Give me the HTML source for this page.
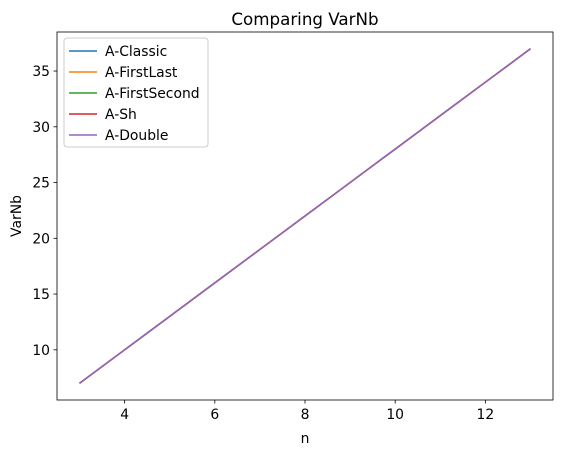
<!DOCTYPE html>
<html><head><meta charset="utf-8"><style>
body{margin:0;background:#fff;}
text{font-family:"DejaVu Sans","Liberation Sans",sans-serif;fill:#000;}
</style></head><body>
<svg id="chart" width="562" height="455" xmlns="http://www.w3.org/2000/svg">
<rect width="562" height="455" fill="#fff"/>
<text x="305" y="25" font-size="16.7" text-anchor="middle">Comparing VarNb</text>
<g id="ticks"></g>
<g id="lines"></g>
<rect x="57" y="32" width="496" height="368" fill="none" stroke="#000" stroke-width="0.8"/>
<text x="305" y="443" font-size="13.9" text-anchor="middle">n</text>
<text x="21" y="216" font-size="13.9" text-anchor="middle" transform="rotate(-90 21 216)">VarNb</text>
<g id="legend"></g>
</svg>
<script>
const ns="http://www.w3.org/2000/svg";
const nValues=[3,4,5,6,7,8,9,10,11,12,13];
const classic=[7,10,13,16,19,22,25,28,31,34,37];
const firstLast=[7,10,13,16,19,22,25,28,31,34,37];
const firstSecond=[7,10,13,16,19,22,25,28,31,34,37];
const sh=[7,10,13,16,19,22,25,28,31,34,37];
const dbl=[7,10,13,16,19,22,25,28,31,34,37];
const seriesNames=["A-Classic","A-FirstLast","A-FirstSecond","A-Sh","A-Double"];
const xTicks=[4,6,8,10,12];
const yTicks=[10,15,20,25,30,35];
const colors=["#1f77b4","#ff7f0e","#2ca02c","#d62728","#9467bd"];
const allSeries=[classic,firstLast,firstSecond,sh,dbl];
const X0=57,X1=553,Y0=400,Y1=32,xmin=2.5,xmax=13.5,ymin=5.5,ymax=38.5;
const sx=v=>X0+(v-xmin)/(xmax-xmin)*(X1-X0);
const sy=v=>Y0-(v-ymin)/(ymax-ymin)*(Y0-Y1);
function mk(tag,attrs,parent){const e=document.createElementNS(ns,tag);for(const k in attrs)e.setAttribute(k,attrs[k]);parent.appendChild(e);return e;}
const tg=document.getElementById('ticks');
xTicks.forEach(t=>{
  const l=mk('line',{x1:sx(t),x2:sx(t),y1:Y0,y2:Y0+3.5,stroke:'#000','stroke-width':0.8},tg);
  
  
  const tx=mk('text',{x:sx(t),y:Y0+19,'font-size':13.9,'text-anchor':'middle'},tg);tx.textContent=t;
  
  
});
yTicks.forEach(t=>{
  const l=mk('line',{x1:X0-3.5,x2:X0,y1:sy(t),y2:sy(t),stroke:'#000','stroke-width':0.8},tg);
  
  
  const tx=mk('text',{x:X0-7,y:sy(t)+5,'font-size':13.9,'text-anchor':'end'},tg);tx.textContent=t;
  
  
});
const lg=document.getElementById('lines');
allSeries.forEach((s,i)=>{
  const p=mk('polyline',{points:s.map((v,j)=>sx(nValues[j])+','+sy(v)).join(' '),fill:'none',stroke:colors[i],'stroke-width':1.5},lg);
  
  
});
const leg=document.getElementById('legend');
const box=mk('rect',{x:64,y:38,width:144,height:109,rx:3,fill:'#fff','fill-opacity':0.8,stroke:'#ccc','stroke-width':1},leg);


seriesNames.forEach((n,i)=>{
  const y=51+i*21;
  const l=mk('line',{x1:69,x2:97,y1:y,y2:y,stroke:colors[i],'stroke-width':1.5},leg);
  
  
  const t=mk('text',{x:105,y:y+5,'font-size':13.9},leg);t.textContent=n;
  
  
});
</script>
</body></html>
